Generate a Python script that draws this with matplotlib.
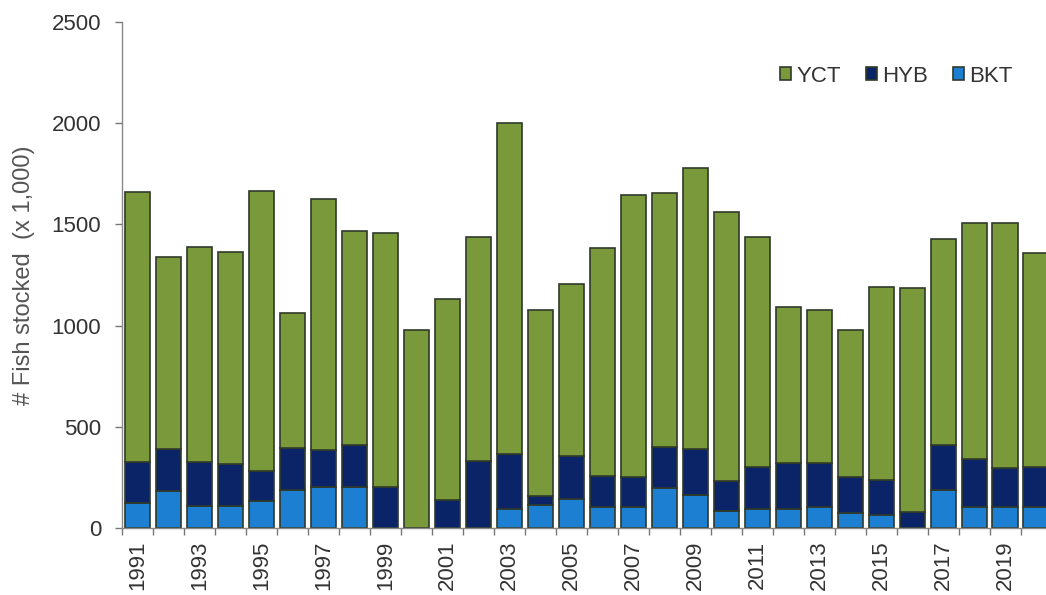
import numpy as np
import matplotlib
matplotlib.use("Agg")
import matplotlib.pyplot as plt

plt.rcParams['font.family'] = ['Liberation Sans', 'DejaVu Sans']

years = list(range(1991, 2021))
# values in thousands of fish
bkt = [126, 184, 108, 108, 135, 189, 202, 202, 0, 0,
       0, 0, 94, 115, 143, 104, 104, 197, 164, 87,
       94, 94, 107, 77, 66, 0, 189, 104, 104, 107]
hyb = [201, 207, 219, 209, 148, 209, 184, 209, 202, 0,
       140, 334, 273, 44, 214, 154, 148, 203, 227, 146,
       210, 228, 215, 175, 172, 82, 222, 238, 194, 197]
yct = [1331, 950, 1061, 1047, 1383, 663, 1238, 1055, 1257, 979,
       990, 1105, 1633, 919, 849, 1124, 1395, 1255, 1389, 1327,
       1132, 770, 756, 727, 955, 1103, 1015, 1163, 1207, 1053]

c_yct = '#7a993b'
c_hyb = '#0b2468'
c_bkt = '#1c7fd2'
edge = '#2f3a2a'

fig = plt.figure(figsize=(10.46, 5.95), dpi=100)
ax = fig.add_axes([0.1166, 0.112, 0.889, 0.8515])

x = np.arange(len(years))
w = 0.83
bkt = np.array(bkt)
hyb = np.array(hyb)
yct = np.array(yct)
ax.bar(x, bkt, w, color=c_bkt, edgecolor=edge, linewidth=1.2, label='BKT', zorder=2)
ax.bar(x, hyb, w, bottom=bkt, color=c_hyb, edgecolor=edge, linewidth=1.2, label='HYB', zorder=2)
ax.bar(x, yct, w, bottom=bkt + hyb, color=c_yct, edgecolor=edge, linewidth=1.2, label='YCT', zorder=2)

ax.set_xlim(-0.5, len(years) - 0.5)
ax.set_ylim(0, 2500)
ax.set_yticks([0, 500, 1000, 1500, 2000, 2500])

ax.set_xticks(x[::2])
ax.set_xticklabels([str(y) for y in years[::2]], rotation=90)
ax.set_xticks(np.arange(len(years) + 1) - 0.5, minor=True)
ax.tick_params(axis='x', which='major', length=0, pad=9, labelsize=16, labelcolor='#333333')
ax.tick_params(axis='x', which='minor', length=5, color='#777777', width=1)
ax.tick_params(axis='y', length=5, color='#777777', width=1, labelsize=16,
               labelcolor='#333333', pad=10)

for s in ['top', 'right']:
    ax.spines[s].set_visible(False)
for s in ['left', 'bottom']:
    ax.spines[s].set_color('#888888')
    ax.spines[s].set_linewidth(1.0)

ax.yaxis.set_label_coords(-0.093, 0.5)
ax.set_ylabel('# Fish stocked  (x 1,000)', fontsize=17, color='#555555')

h, l = ax.get_legend_handles_labels()
leg = fig.legend(h[::-1], l[::-1], loc='center', bbox_to_anchor=(0.857, 0.872),
                 ncol=3, frameon=False, fontsize=16, handlelength=0.5, handleheight=0.5,
                 handletextpad=0.25, columnspacing=1.1)
for t in leg.get_texts():
    t.set_color('#333333')

fig.savefig('out.png', dpi=100)
